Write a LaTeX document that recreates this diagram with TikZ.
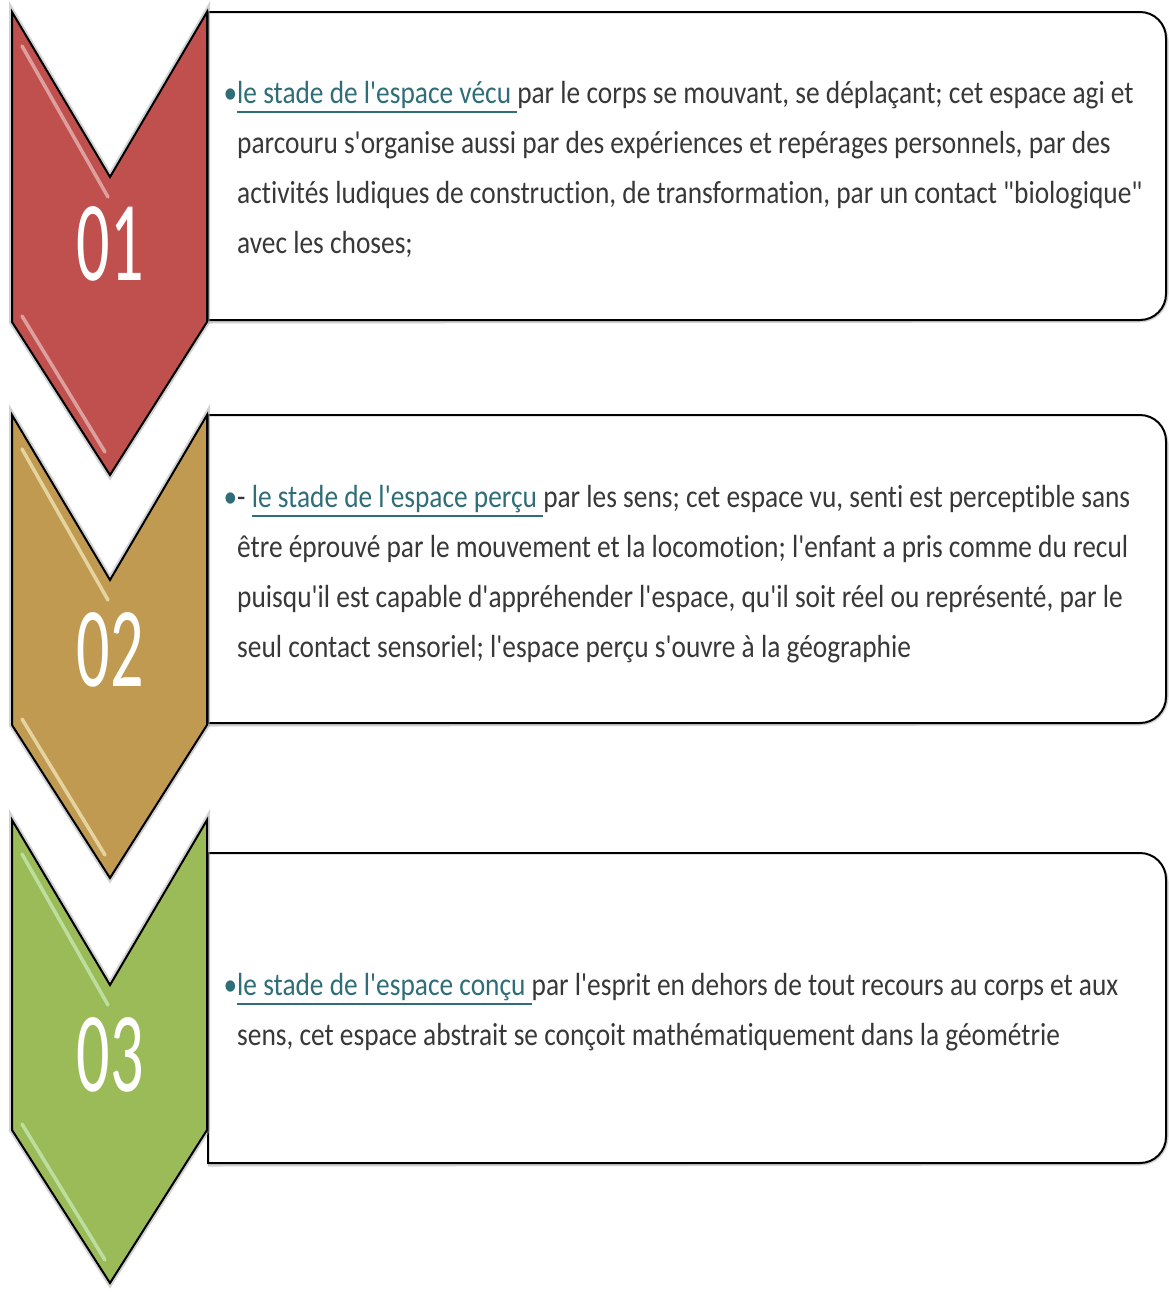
\documentclass[tikz,border=0pt]{standalone}
\usepackage{fontspec}
\newfontfamily\bodyfont{Carlito}[FakeStretch=0.855,Ligatures={TeXOff,NoCommon}]
\newfontfamily\numfont{Carlito}[FakeStretch=0.58]
\definecolor{txt}{HTML}{383838}
\definecolor{tealc}{HTML}{2F6E78}
\definecolor{cred}{HTML}{C0504D}
\definecolor{cgold}{HTML}{C09A50}
\definecolor{cgreen}{HTML}{9BBB59}
\newcommand\ulk[1]{\setbox0=\hbox{{\color{tealc}#1}}\rlap{{\color{tealc}\rule[-10pt]{\wd0}{2.2pt}}}\box0}
\newcommand\tbul{\llap{{\color{tealc}•}}}
\newcommand\chevshape[3]{% #1 top, #2 colour, #3 tint
  \draw[black!35, line width=6pt, line join=miter, opacity=0.5]
    (12,#1) -- (110,{#1+165}) -- (207,#1) -- (207,{#1+310}) -- (110,{#1+463}) -- (12,{#1+310}) -- cycle;
  \draw[fill=#2, draw=black, line width=2pt, line join=miter]
    (12,#1) -- (110,{#1+165}) -- (207,#1) -- (207,{#1+310}) -- (110,{#1+463}) -- (12,{#1+310}) -- cycle;
  \draw[#3, line width=3.5pt, line cap=round, opacity=0.7] (22,{#1+34}) -- (108,{#1+185});
  \draw[#3, line width=3.5pt, line cap=round, opacity=0.7] (22,{#1+304}) -- (105,{#1+440});
}
\newcommand\infoshape[2]{% #1 top, #2 bottom
  \draw[black!30, line width=5pt, opacity=0.6]
    (1140,{#1+3}) arc[start angle=-90, end angle=0, radius=26] -- (1166,{#2-26}) arc[start angle=0, end angle=90, radius=26] -- (208,{#2+1});
  \draw[fill=white, draw=black, line width=2pt]
    (208,#1) -- (1140,#1) arc[start angle=-90, end angle=0, radius=26] -- (1166,{#2-26}) arc[start angle=0, end angle=90, radius=26] -- (208,#2) -- cycle;
}
\begin{document}
\begin{tikzpicture}[x=1pt,y=-1pt,
  txtnode/.style={font=\bodyfont\fontsize{32}{50}\selectfont, text=txt, align=left, inner sep=0pt, anchor=west},
  numnode/.style={font=\numfont\fontsize{114}{114}\selectfont, text=white, inner sep=0pt}]
\useasboundingbox (0,0) rectangle (1168,1293);
\fill[white] (0,0) rectangle (1168,1293);

\infoshape{12}{320}
\infoshape{415}{723}
\infoshape{853}{1163}

\chevshape{12}{cred}{cred!35!white}
\chevshape{415}{cgold}{yellow!40!cgold!30!white}
\chevshape{820}{cgreen}{green!30!cgreen!35!white}

\node[numnode] (n1) at (110,244) {01};
\node[numnode] (n2) at (110,650) {02};
\node[numnode] (n3) at (110,1055) {03};

\node[txtnode] (t1) at (237,169) {\tbul\ulk{le stade de l'espace vécu }par le corps se mouvant, se déplaçant; cet espace agi et\\
parcouru s'organise aussi par des expériences et repérages personnels, par des\\
activités ludiques de construction, de transformation, par un contact "biologique"\\
avec les choses;};

\node[txtnode] (t2) at (237,574) {\tbul- \ulk{le stade de l'espace perçu }par les sens; cet espace vu, senti est perceptible sans\\
être éprouvé par le mouvement et la locomotion; l'enfant a pris comme du recul\\
puisqu'il est capable d'appréhender l'espace, qu'il soit réel ou représenté, par le\\
seul contact sensoriel; l'espace perçu s'ouvre à la géographie};

\node[txtnode] (t3) at (237,1012) {\tbul\ulk{le stade de l'espace conçu }par l'esprit en dehors de tout recours au corps et aux\\
sens, cet espace abstrait se conçoit mathématiquement dans la géométrie};
\end{tikzpicture}
\end{document}
